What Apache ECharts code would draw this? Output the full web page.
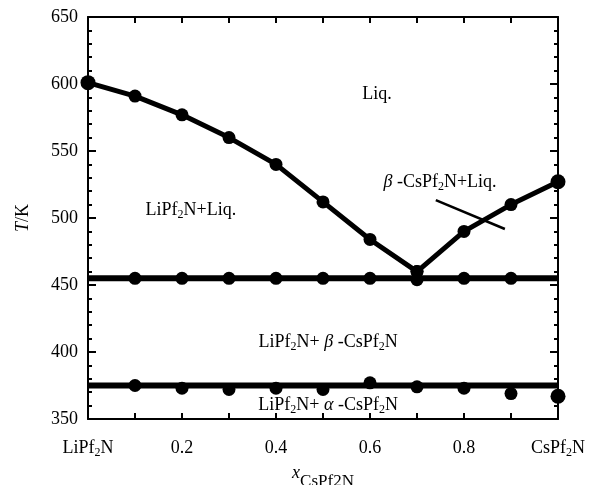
<!DOCTYPE html>
<html>
<head>
<meta charset="utf-8">
<script src="https://cdn.jsdelivr.net/npm/echarts@6/dist/echarts.min.js"></script>
<style>
  html, body { margin: 0; padding: 0; background: #fff; }
  #chart { width: 594px; height: 485px; }
</style>
</head>
<body>
<div id="chart"></div>
<script>
// LiPf2N - CsPf2N phase diagram, x = mole fraction CsPf2N
let liqX = [0, 0.1, 0.2, 0.3, 0.4, 0.5, 0.6, 0.7];
let liqT = [601, 591, 577, 560, 540, 512, 484, 460];
let betaX = [0.7, 0.8, 0.9, 1.0];
let betaT = [460, 490, 510, 527];
let eutX = [0.1, 0.2, 0.3, 0.4, 0.5, 0.6, 0.7, 0.8, 0.9];
let eutT = [455, 455, 455, 455, 455, 455, 454, 455, 455];
let eutLine = 455;
let transX = [0.1, 0.2, 0.3, 0.4, 0.5, 0.6, 0.7, 0.8, 0.9, 1.0];
let transT = [375, 373, 372, 373, 372, 377, 374, 373, 369, 367];
let transLine = 375;

// region labels (data coords)
let noteText = [
  '{n|Liq.}',
  '{n|LiPf}{s|2}{n|N+Liq.}',
  '{g|β}{n| -CsPf}{s|2}{n|N+Liq.}',
  '{n|LiPf}{s|2}{n|N+ }{g|β}{n| -CsPf}{s|2}{n|N}',
  '{n|LiPf}{s|2}{n|N+ }{g|α}{n| -CsPf}{s|2}{n|N}'
];
let noteX = [0.615, 0.219, 0.749, 0.511, 0.511];
let noteT = [592, 506, 527, 407.5, 360.5];
let pointerX = [0.740, 0.887];
let pointerT = [513.4, 491.8];

let FONT = 'Liberation Serif';
let rich = {
  n: { fontFamily: FONT, fontSize: 18, lineHeight: 22, color: '#000' },
  s: { fontFamily: FONT, fontSize: 12, lineHeight: 12, verticalAlign: 'bottom', color: '#000' },
  g: { fontFamily: FONT, fontSize: 18, lineHeight: 22, fontStyle: 'italic', color: '#000' }
};

function zip(xs, ys) {
  return xs.map(function (x, i) { return [x, ys[i]]; });
}
function frameLine() {
  return { show: true, onZero: false, lineStyle: { color: '#000', width: 2 } };
}
function grid() {
  return { left: 88, right: 36, top: 17, bottom: 66, outerBoundsMode: 'none', containLabel: false };
}

let dom = echarts.init(document.getElementById('chart'));

dom.setOption({
  animation: false,
  grid: [grid(), grid()],
  xAxis: [{
    type: 'value', position: 'bottom', min: 0, max: 1, interval: 0.1,
    axisLine: frameLine(),
    axisTick: { inside: true, length: 6, lineStyle: { color: '#000', width: 2 } },
    splitLine: { show: false },
    axisLabel: {
      margin: 18,
      formatter: function (v) {
        let k = Math.round(v * 10);
        if (k === 0) return '{n|LiPf}{s|2}{n|N}';
        if (k === 10) return '{n|CsPf}{s|2}{n|N}';
        if (k % 2 === 1) return '';
        return '{n|' + (k / 10).toFixed(1) + '}';
      },
      rich: rich
    },
    name: '{i|x}{t|CsPf2N}',
    nameLocation: 'middle',
    nameGap: 33,
    nameTextStyle: {
      rich: {
        i: { fontFamily: FONT, fontSize: 18, lineHeight: 34, fontStyle: 'italic', color: '#000' },
        t: { fontFamily: FONT, fontSize: 17, lineHeight: 8, verticalAlign: 'bottom', color: '#000' }
      }
    }
  }, {
    type: 'value', position: 'top', min: 0, max: 1, interval: 0.1,
    axisLine: frameLine(),
    axisTick: { inside: true, length: 6, lineStyle: { color: '#000', width: 2 } },
    axisLabel: { show: false },
    splitLine: { show: false }
  }, {
    type: 'value', gridIndex: 1, min: 0, max: 1, show: false
  }],
  yAxis: [{
    type: 'value', position: 'left', min: 350, max: 650, interval: 50,
    axisLine: frameLine(),
    axisTick: { inside: true, length: 8, lineStyle: { color: '#000', width: 2 } },
    splitLine: { show: false },
    axisLabel: { margin: 10, fontFamily: FONT, fontSize: 18, color: '#000' },
    name: '{i|T}{n|/K}',
    nameLocation: 'middle',
    nameRotate: 90,
    nameGap: 54,
    nameTextStyle: {
      rich: {
        i: { fontFamily: FONT, fontSize: 18, lineHeight: 22, fontStyle: 'italic', color: '#000' },
        n: { fontFamily: FONT, fontSize: 18, lineHeight: 22, color: '#000' }
      }
    }
  }, {
    type: 'value', position: 'right', min: 350, max: 650, interval: 50,
    axisLine: frameLine(),
    axisTick: { inside: true, length: 8, lineStyle: { color: '#000', width: 2 } },
    splitLine: { show: false },
    axisLabel: { show: false }
  }, {
    // minor ticks, left
    type: 'value', gridIndex: 1, position: 'left', min: 350, max: 650, interval: 10,
    axisLine: { show: false },
    axisTick: { inside: true, length: 4, lineStyle: { color: '#000', width: 2 } },
    splitLine: { show: false },
    axisLabel: { show: false }
  }, {
    // minor ticks, right
    type: 'value', gridIndex: 1, position: 'right', min: 350, max: 650, interval: 10,
    axisLine: { show: false },
    axisTick: { inside: true, length: 4, lineStyle: { color: '#000', width: 2 } },
    splitLine: { show: false },
    axisLabel: { show: false }
  }],
  series: [
    {
      type: 'line', data: [[0, eutLine], [1, eutLine]], symbol: 'none', clip: false,
      lineStyle: { color: '#000', width: 6 }
    },
    {
      type: 'line', data: [[0, transLine], [1, transLine]], symbol: 'none', clip: false,
      lineStyle: { color: '#000', width: 6 }
    },
    {
      type: 'line', data: zip(liqX, liqT), symbol: 'circle', clip: false,
      symbolSize: function (d) { return d[0] === 0 ? 15 : 13; },
      lineStyle: { color: '#000', width: 5 }, itemStyle: { color: '#000' }
    },
    {
      type: 'line', data: zip(betaX, betaT), symbol: 'circle', clip: false,
      symbolSize: function (d) { return d[0] === 1 ? 15 : 13; },
      lineStyle: { color: '#000', width: 5 }, itemStyle: { color: '#000' }
    },
    {
      type: 'scatter', data: zip(eutX, eutT), symbolSize: 13, clip: false,
      itemStyle: { color: '#000', opacity: 1 }
    },
    {
      type: 'scatter', data: zip(transX, transT), clip: false,
      symbolSize: function (d) { return d[0] === 1 ? 15 : 13; },
      itemStyle: { color: '#000', opacity: 1 }
    },
    {
      type: 'line', data: zip(pointerX, pointerT), symbol: 'none',
      lineStyle: { color: '#000', width: 2.5 }
    },
    {
      type: 'scatter', silent: true, symbolSize: 1,
      itemStyle: { color: 'rgba(0,0,0,0)', opacity: 1 },
      data: noteText.map(function (t, i) { return { value: [noteX[i], noteT[i]], note: t }; }),
      label: {
        show: true, position: 'inside', color: '#000',
        formatter: function (p) { return p.data.note; },
        rich: rich
      }
    }
  ]
});
dom.resize();
</script>
</body>
</html>
